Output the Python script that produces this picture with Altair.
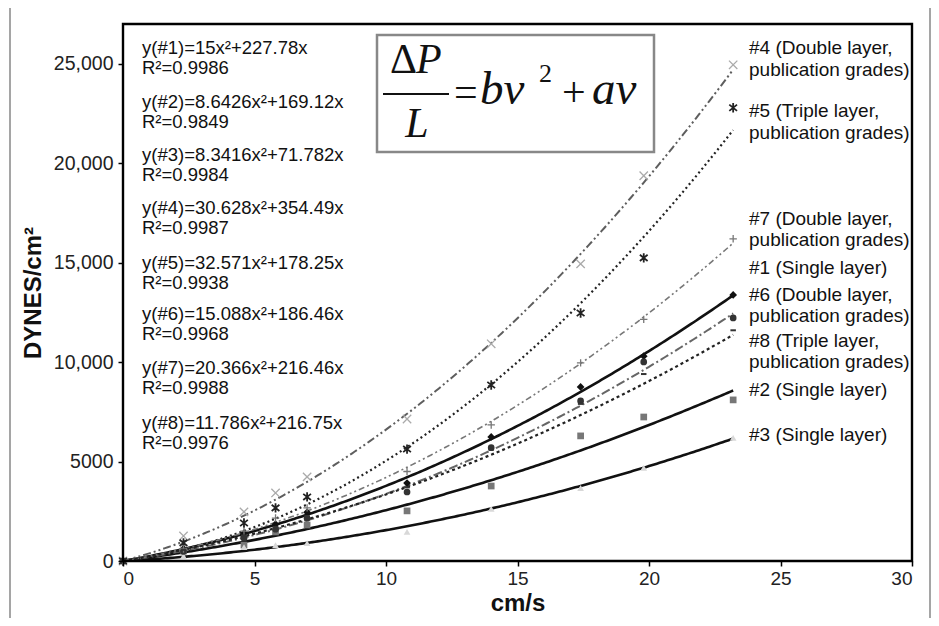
import altair as alt
import pandas as pd

# ---------------- data ----------------
velocity = [0, 2.3, 4.6, 5.8, 7.0, 10.8, 14.0, 17.4, 19.8, 23.2]

pts_1 = [0, 620, 1400, 1850, 2450, 3920, 6240, 8750, 10300, 13380]
pts_2 = [0, 500, 800, 1460, 1810, 2520, 3770, 6290, 7240, 8100]
pts_3 = [0, 250, 700, 800, 900, 1460, 2620, 3670, 4680, 6190]
pts_4 = [0, 1260, 2470, 3420, 4230, 7140, 10920, 14940, 19370, 24950]
pts_5 = [0, 910, 1910, 2670, 3220, 5630, 8850, 12470, 15240, 22790]
pts_6 = [0, 480, 1150, 1600, 2150, 3470, 5700, 8050, 10010, 12220]
pts_7 = [0, 600, 1500, 2160, 2670, 4500, 6840, 9960, 12150, 16200]
pts_8 = [0, 560, 1280, 1700, 2250, 3700, 5600, 7900, 9400, 11600]

series_ids = ["#1", "#2", "#3", "#4", "#5", "#6", "#7", "#8"]
series_pts = [pts_1, pts_2, pts_3, pts_4, pts_5, pts_6, pts_7, pts_8]
quad_b = [15, 8.6426, 8.3416, 30.628, 32.571, 15.088, 20.366, 11.786]
lin_a = [227.78, 169.12, 71.782, 354.49, 178.25, 186.46, 216.46, 216.75]
r_squared = ["0.9986", "0.9849", "0.9984", "0.9987", "0.9938", "0.9968", "0.9988", "0.9976"]
fit_end = 23.2

right_labels = [
    "#4 (Double layer,", "publication grades)",
    "#5 (Triple layer,", "publication grades)",
    "#7 (Double layer,", "publication grades)",
    "#1 (Single layer)",
    "#6 (Double layer,", "publication grades)",
    "#8 (Triple layer,", "publication grades)",
    "#2 (Single layer)",
    "#3 (Single layer)",
]

x_ticks = [0, 5, 10, 15, 20, 25, 30]
y_ticks = [0, 5000, 10000, 15000, 20000, 25000]

# ---------------- layout / style ----------------
W, H = 789, 537
SANS = "Liberation Sans"
SERIF = "Liberation Serif"

eq_y = [24, 78, 131, 184, 239, 290, 344, 399]   # px, equation lines (R² line is +20)
right_y = [24, 46, 87, 109, 195, 216, 244, 271, 292, 317, 338, 366, 411]

line_styles = {
    "#1": dict(color="#111111", strokeWidth=2.6),
    "#2": dict(color="#111111", strokeWidth=2.6),
    "#3": dict(color="#111111", strokeWidth=2.6),
    "#4": dict(color="#5e5e5e", strokeWidth=2.0, strokeDash=[8, 3, 2, 3, 2, 3]),
    "#5": dict(color="#222222", strokeWidth=2.2, strokeDash=[2, 3]),
    "#6": dict(color="#666666", strokeWidth=2.0, strokeDash=[9, 3, 2, 3]),
    "#7": dict(color="#777777", strokeWidth=1.6, strokeDash=[6, 3, 2, 3, 2, 3]),
    "#8": dict(color="#222222", strokeWidth=2.2, strokeDash=[3, 3]),
}
X_SHAPE = "M-1,-1L1,1M1,-1L-1,1"
AST_SHAPE = "M-1,-0.8L1,0.8M1,-0.8L-1,0.8M0,-1.2L0,1.2"
PLUS_SHAPE = "M-1,0L1,0M0,-1L0,1"
DASH_SHAPE = "M-1,0L1,0"
point_styles = {
    "#1": dict(shape="diamond", filled=True, color="#111111", size=60, opacity=1),
    "#2": dict(shape="square", filled=True, color="#777777", size=45, opacity=1),
    "#3": dict(shape="triangle-up", filled=True, color="#d8d8d8", size=45, opacity=1),
    "#4": dict(shape=X_SHAPE, filled=False, color="#aaaaaa", size=70, strokeWidth=1.3, opacity=1),
    "#5": dict(shape=AST_SHAPE, filled=False, color="#222222", size=60, strokeWidth=1.8, opacity=1),
    "#6": dict(shape="circle", filled=True, color="#333333", size=45, opacity=1),
    "#7": dict(shape=PLUS_SHAPE, filled=False, color="#777777", size=55, strokeWidth=1.3, opacity=1),
    "#8": dict(shape=DASH_SHAPE, filled=False, color="#333333", size=30, strokeWidth=2, opacity=1),
}

xscale = alt.Scale(domain=[0, 30], nice=False)
yscale = alt.Scale(domain=[0, 27000], nice=False)

x_axis = alt.Axis(values=x_ticks, title="cm/s", grid=False, domain=False, tickSize=5,
                  tickColor="black", tickWidth=1.5, labelFontSize=19, labelFont=SANS,
                  labelColor="#222222", labelPadding=3, titleFont=SANS, titleFontSize=24,
                  titleFontWeight="bold", titleColor="#111111", titlePadding=3, zindex=1)
y_axis = alt.Axis(values=y_ticks, title="DYNES/cm²", grid=False, domain=False, tickSize=5,
                  tickColor="black", tickWidth=1.5, labelFontSize=19.5, labelFont=SANS,
                  labelColor="#222222", labelPadding=5,
                  labelExpr="datum.value >= 10000 ? format(datum.value, ',') : format(datum.value, 'd')",
                  titleFont=SANS, titleFontSize=24, titleFontWeight="bold",
                  titleColor="#111111", titlePadding=8, zindex=1)

one = pd.DataFrame({"k": [0]})

# outer grey frame
outer = alt.Chart(one).mark_rect(fillOpacity=0, stroke="#888888", strokeWidth=1.5).encode(
    x=alt.value(-113), x2=alt.value(807), y=alt.value(-19), y2=alt.value(640))

# plot frame
frame = alt.Chart(one).mark_rect(fillOpacity=0, stroke="black", strokeWidth=2.4).encode(
    x=alt.value(0), x2=alt.value(W), y=alt.value(0), y2=alt.value(H))

# fitted curves
curve_layers = []
for i, sid in enumerate(series_ids):
    st = line_styles[sid]
    ch = alt.Chart(alt.sequence(0, fit_end + 0.01, 0.1, as_="v")).transform_calculate(
        p=f"{quad_b[i]} * datum.v * datum.v + {lin_a[i]} * datum.v"
    ).mark_line(**st).encode(
        x=alt.X("v:Q", scale=xscale, axis=x_axis),
        y=alt.Y("p:Q", scale=yscale, axis=y_axis),
    )
    curve_layers.append(ch)

# measured points
point_layers = []
for i, sid in enumerate(series_ids):
    df = pd.DataFrame({"v": velocity, "p": series_pts[i]})
    ch = alt.Chart(df).mark_point(**point_styles[sid]).encode(
        x=alt.X("v:Q", scale=xscale, axis=x_axis),
        y=alt.Y("p:Q", scale=yscale, axis=y_axis),
    )
    point_layers.append(ch)

layers = curve_layers + point_layers + [outer, frame]

# left equation annotations
eq_rows = []
for i, sid in enumerate(series_ids):
    eq_rows.append({"t": f"y({sid})={quad_b[i]:g}x²+{lin_a[i]:g}x", "py": eq_y[i]})
    eq_rows.append({"t": f"R²={r_squared[i]}", "py": eq_y[i] + 20})
eq_df = pd.DataFrame(eq_rows)
eq_text = alt.Chart(eq_df).mark_text(align="left", baseline="middle", font=SANS,
                                     fontSize=18.5, color="#111111").encode(
    x=alt.value(19), y=alt.value(0), yOffset=alt.YOffset("py:Q", scale=None), text="t:N")
layers.append(eq_text)

# right series labels
rl_df = pd.DataFrame({"t": right_labels, "py": right_y})
rl_text = alt.Chart(rl_df).mark_text(align="left", baseline="middle", font=SANS,
                                     fontSize=19, color="#111111").encode(
    x=alt.value(626), y=alt.value(0), yOffset=alt.YOffset("py:Q", scale=None), text="t:N")
layers.append(rl_text)

# equation box  ΔP/L = bv² + av
box = alt.Chart(one).mark_rect(fill="white", stroke="#888888", strokeWidth=2.5).encode(
    x=alt.value(254), x2=alt.value(531), y=alt.value(11), y2=alt.value(128))
layers.append(box)


def eqtxt(t, x, y, size=42, italic=False, align="left"):
    return alt.Chart(one).mark_text(text=t, font=SERIF, fontSize=size,
                                    fontStyle="italic" if italic else "normal",
                                    align=align, baseline="alphabetic", color="#111111").encode(
        x=alt.value(x), y=alt.value(y))


layers += [
    eqtxt("Δ", 267, 49),
    eqtxt("P", 293, 49, italic=True),
    alt.Chart(one).mark_rule(color="#111111", strokeWidth=2.2).encode(
        x=alt.value(260), x2=alt.value(326), y=alt.value(70)),
    eqtxt("L", 294, 113, italic=True, align="center"),
    eqtxt("=", 331, 82),
    eqtxt("bv", 357, 80, size=47, italic=True),
    eqtxt("2", 416, 58, size=26),
    eqtxt("+", 439, 82),
    eqtxt("av", 469, 80, size=47, italic=True),
]

chart = alt.layer(*layers).properties(
    width=W, height=H, autosize="none",
    padding={"left": 115, "top": 16, "right": 19, "bottom": 57},
).configure_view(stroke=None).configure(background="white")

chart.save("out.html", embed_options={"renderer": "svg", "actions": False})
